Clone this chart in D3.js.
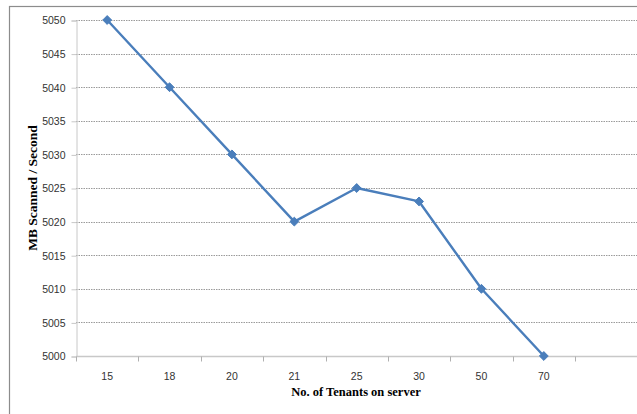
<!DOCTYPE html>
<html><head><meta charset="utf-8">
<script src="https://cdn.jsdelivr.net/npm/d3@7"></script>
<style>body{margin:0;background:#fff}svg{display:block}</style>
</head><body>
<script>
const categories = ["15","18","20","21","25","30","50","70"];
const values = [5050, 5040, 5030, 5020, 5025, 5023, 5010, 5000];
const yTicks = [5000,5005,5010,5015,5020,5025,5030,5035,5040,5045,5050];
const xTitle = "No. of Tenants on server";
const yTitle = "MB Scanned / Second";

(function () {
const W = 637, H = 414;
const svg = d3.select("body").append("svg").attr("width", W).attr("height", H);

// outer chart border (cropped)
svg.append("rect").attr("x", 9.5).attr("y", 6.5).attr("width", 700).attr("height", 500)
  .attr("fill", "none").attr("stroke", "#8c8c8c").attr("stroke-width", 1.2);

const pl = 76, pr = 575, pt = 20, pb = 356;
const x = d3.scaleBand().domain(categories).range([pl, pr]);
const y = d3.scaleLinear().domain([5000, 5050]).range([pb, pt]);

// gridlines
svg.append("g").selectAll("line").data(yTicks.filter(d => d !== 5000)).join("line")
  .attr("x1", pl).attr("x2", W).attr("y1", d => Math.round(y(d)) + 0.5).attr("y2", d => Math.round(y(d)) + 0.5)
  .attr("stroke", "#9a9a9a").attr("stroke-width", 1).attr("stroke-dasharray", "1.5,1");

// y axis
const yAxis = d3.axisLeft(y).tickValues(yTicks).tickSize(5).tickPadding(6).tickFormat(d3.format("d"));
const gy = svg.append("g").attr("transform", `translate(${pl + 0.5},0.5)`).call(yAxis);
gy.select(".domain").attr("stroke", "#c8c8c8");
gy.selectAll(".tick line").attr("stroke", "#c8c8c8");
gy.selectAll("text").attr("font-family", "Liberation Sans, Arial, sans-serif").attr("font-size", 10.5).attr("fill", "#333");

// x axis
const gx = svg.append("g").attr("transform", `translate(0,${pb + 0.5})`);
gx.append("line").attr("x1", pl).attr("x2", W).attr("y1", 0).attr("y2", 0).attr("stroke", "#c8c8c8").attr("stroke-width", 1.5);
const bounds = categories.map(c => x(c)).concat([pr]);
gx.selectAll(".tk").data(bounds).join("line").attr("class", "tk")
  .attr("x1", d => Math.round(d) + 0.5).attr("x2", d => Math.round(d) + 0.5).attr("y1", 0).attr("y2", 5)
  .attr("stroke", "#b0b0b0");
gx.selectAll("text").data(categories).join("text")
  .attr("x", d => x(d) + x.bandwidth() / 2).attr("y", 23)
  .attr("text-anchor", "middle").attr("font-family", "Liberation Sans, Arial, sans-serif")
  .attr("font-size", 10.5).attr("fill", "#333").text(d => d);

// line
const line = d3.line().x((d, i) => x(categories[i]) + x.bandwidth() / 2).y(d => y(d));
svg.append("path").datum(values).attr("d", line).attr("fill", "none")
  .attr("stroke", "#4a7ebb").attr("stroke-width", 2.4).attr("stroke-linejoin", "round");

// markers
svg.append("g").selectAll("path").data(values).join("path")
  .attr("transform", (d, i) => `translate(${x(categories[i]) + x.bandwidth() / 2},${y(d)})`)
  .attr("d", d3.symbol().type(d3.symbolDiamond2).size(50))
  .attr("fill", "#4a7ebb").attr("stroke", "#4a7ebb").attr("stroke-width", 1);

// titles
svg.append("text").attr("x", 356).attr("y", 396).attr("text-anchor", "middle")
  .attr("font-family", "Liberation Serif, Times New Roman, serif").attr("font-weight", "bold")
  .attr("font-size", 12.5).attr("fill", "#000").text(xTitle);
svg.append("text").attr("transform", `translate(37,188) rotate(-90)`).attr("text-anchor", "middle")
  .attr("font-family", "Liberation Serif, Times New Roman, serif").attr("font-weight", "bold")
  .attr("font-size", 13.5).attr("fill", "#000").text(yTitle);
})();
</script>
</body></html>
